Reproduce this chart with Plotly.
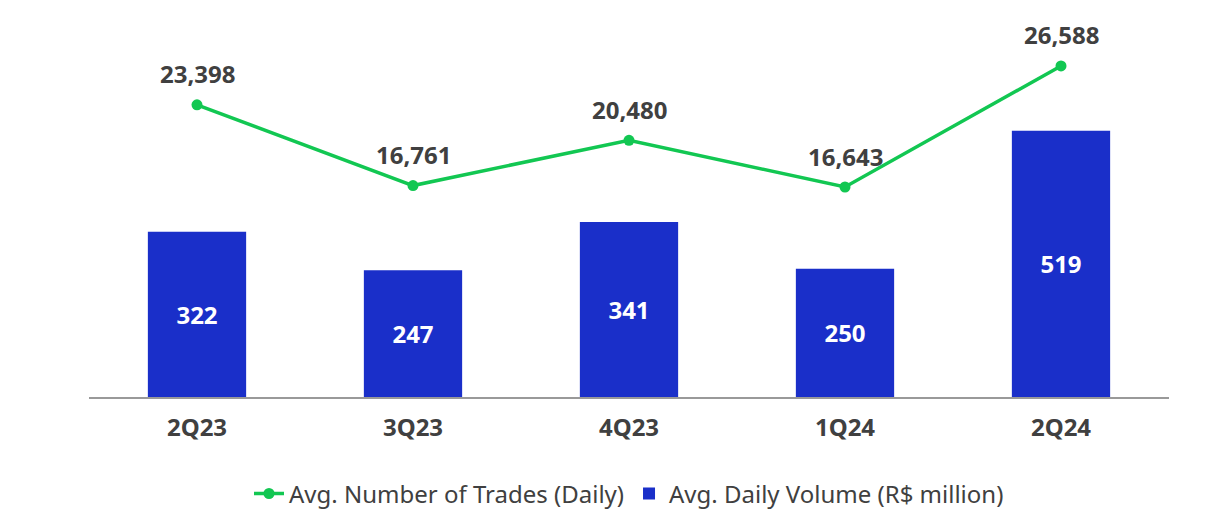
import plotly.graph_objects as go

categories = ["2Q23", "3Q23", "4Q23", "1Q24", "2Q24"]
volume = [322, 247, 341, 250, 519]
trades = [23398, 16761, 20480, 16643, 26588]
trade_labels = ["23,398", "16,761", "20,480", "16,643", "26,588"]

BLUE = "#1a2fc9"
GREEN = "#12c752"
TXT = "#404040"
FONT = "Noto Sans"

fig = go.Figure()
fig.add_trace(go.Bar(
    x=categories, y=volume, name="Avg. Daily Volume (R$ million)",
    marker=dict(color=BLUE, line=dict(width=0)), width=0.455,
    text=[str(v) for v in volume], textposition="inside", insidetextanchor="middle",
    textfont=dict(color="white", size=24, family=FONT, weight="bold"),
    hoverinfo="skip",
))
fig.add_trace(go.Scatter(
    x=categories, y=trades, name="Avg. Number of Trades (Daily)", yaxis="y2",
    mode="lines+markers", line=dict(color=GREEN, width=3.5),
    marker=dict(color=GREEN, size=11),
))
for c, v, lab in zip(categories, trades, trade_labels):
    fig.add_annotation(x=c, y=v, yref="y2", text=lab, showarrow=False,
                       yshift=31, font=dict(color=TXT, size=24, family=FONT, weight="bold"))

fig.update_layout(
    width=1208, height=522, paper_bgcolor="white", plot_bgcolor="white",
    margin=dict(l=89, r=39, t=20, b=125, autoexpand=False),
    showlegend=True,
    legend=dict(orientation="h", x=0.5, xanchor="center", y=-0.257, yanchor="middle",
                traceorder="reversed", font=dict(size=24, color=TXT, family=FONT),
                itemwidth=30),
    xaxis=dict(showgrid=False, showline=True, linecolor="#999999", linewidth=2,
               ticks="", ticklabelstandoff=8,
               tickfont=dict(size=24, color=TXT, family=FONT, weight="bold"),
               range=[-0.5, 4.5]),
    yaxis=dict(range=[0, 735], visible=False, showgrid=False),
    yaxis2=dict(range=[-613, 30365], overlaying="y", visible=False, showgrid=False),
    bargap=0.5,
)
fig.write_html("out.html")
